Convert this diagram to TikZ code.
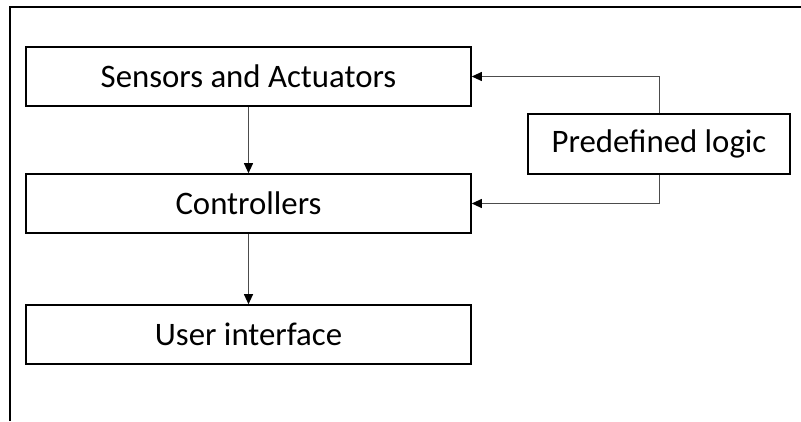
\documentclass[tikz,border=0pt]{standalone}
\usepackage{fontspec}
\setmainfont{Carlito}
\usepackage{tikz}
\usetikzlibrary{arrows.meta}
\newcommand{\LinkColor}{black!70}

\begin{document}
\begin{tikzpicture}[line cap=butt,line join=miter,>={Triangle[length=10pt,width=9pt,color=black]}
  ,x=1pt,y=-1pt
  ,blockbox/.style={draw=black,line width=1.6pt,minimum width=445pt,minimum height=59pt,
    inner sep=0pt,font=\fontsize{32.8}{39}\selectfont}
  ,logicbox/.style={blockbox,minimum width=262pt,minimum height=60pt}
  ,link/.style={draw=\LinkColor,line width=1pt}]
  \useasboundingbox (0,0) rectangle (801,421);
  \draw[line width=2pt] (10,421) -- (10,7) -- (801,7);
  \node[blockbox] (sa) at (248.5,76.5) {Sensors and Actuators};
  \node[blockbox] (ctl) at (248.5,203.5) {Controllers};
  \node[blockbox] (ui) at (248.5,334.5) {User interface};
  \node[logicbox] (pl) at (659,144) {Predefined logic};
  \draw[link,->] (sa) -- (ctl);
  \draw[link,->] (ctl) -- (ui);
  \draw[link,->] (pl.north) |- (sa.east);
  \draw[link,->] (pl.south) |- (ctl.east);
\end{tikzpicture}
\end{document}
